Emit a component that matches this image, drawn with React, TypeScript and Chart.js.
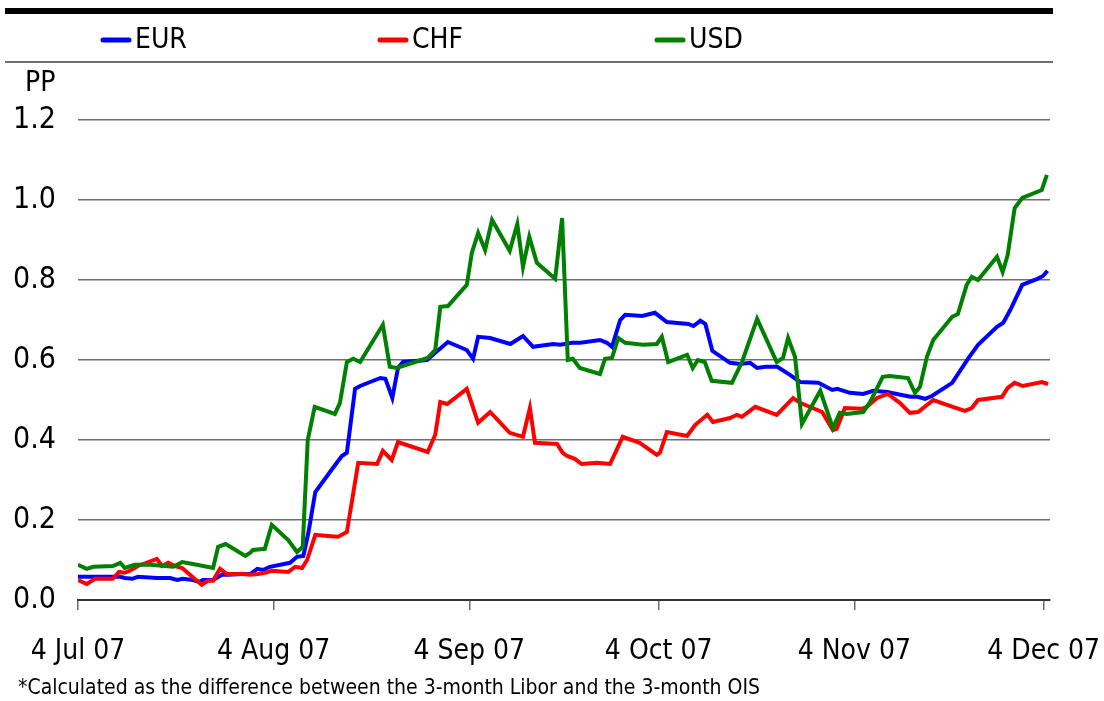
import React, { useEffect, useRef } from "react";
import { Chart, registerables } from "chart.js";

Chart.register(...registerables);

const FONT = "'DejaVu Sans Condensed', 'Liberation Sans Narrow', 'DejaVu Sans', sans-serif";

const tickDays = [0, 31, 62, 92, 123, 153];
const tickLabels = ["4 Jul 07", "4 Aug 07", "4 Sep 07", "4 Oct 07", "4 Nov 07", "4 Dec 07"];
const seriesNames = ["EUR", "CHF", "USD"];
const seriesColors = ["#0000ff", "#ff0000", "#008000"];
const unitLabel = "PP";
const footnote = "*Calculated as the difference between the 3-month Libor and the 3-month OIS";

const eurDays = [0, 1.4, 5.5, 6.7, 7.4, 8.6, 9.5, 12.5, 14.6, 15.7, 16.6, 18.2, 19.3, 19.8, 21.4, 22.8, 23.8, 26.1, 27.3, 28.4, 29.3, 30.4, 33.6, 34.7, 35.7, 36.5, 37.6, 41.0, 41.8, 42.6, 43.9, 44.7, 47.9, 48.7, 49.8, 50.7, 51.5, 55.3, 56.6, 58.6, 61.6, 62.6, 63.4, 65.3, 68.5, 70.5, 72.1, 75.3, 76.4, 78.3, 79.6, 82.7, 83.8, 84.6, 85.9, 86.7, 89.4, 91.4, 93.3, 96.7, 97.5, 98.6, 99.4, 100.5, 103.3, 104.9, 106.5, 107.6, 108.9, 110.8, 112.8, 114.4, 117.3, 119.5, 120.3, 122.3, 124.4, 126.0, 128.2, 130.3, 131.9, 133.0, 134.2, 135.3, 138.5, 141.0, 142.6, 145.6, 146.6, 147.7, 149.6, 152.0, 152.9, 153.6];
const eurValues = [0.058, 0.058, 0.058, 0.058, 0.055, 0.053, 0.058, 0.055, 0.055, 0.05, 0.053, 0.05, 0.045, 0.05, 0.05, 0.063, 0.063, 0.065, 0.065, 0.078, 0.075, 0.083, 0.093, 0.108, 0.11, 0.168, 0.27, 0.343, 0.36, 0.368, 0.528, 0.535, 0.555, 0.553, 0.505, 0.58, 0.595, 0.6, 0.618, 0.645, 0.625, 0.603, 0.658, 0.655, 0.64, 0.66, 0.633, 0.64, 0.638, 0.643, 0.643, 0.65, 0.643, 0.633, 0.7, 0.713, 0.71, 0.718, 0.695, 0.69, 0.685, 0.698, 0.69, 0.623, 0.593, 0.59, 0.593, 0.58, 0.583, 0.583, 0.563, 0.545, 0.543, 0.525, 0.528, 0.518, 0.515, 0.523, 0.52, 0.513, 0.508, 0.508, 0.503, 0.51, 0.543, 0.603, 0.638, 0.683, 0.693, 0.725, 0.788, 0.803, 0.81, 0.823];

const chfDays = [0, 1.4, 2.7, 5.5, 6.5, 7.4, 8.2, 9.5, 12.5, 13.3, 14.3, 15.4, 16.5, 18.1, 19.6, 20.6, 21.4, 22.5, 23.6, 26.1, 27.3, 28.5, 29.6, 30.7, 33.3, 34.4, 35.5, 36.3, 37.6, 39.6, 41.2, 42.6, 44.4, 47.4, 48.3, 49.7, 50.7, 55.4, 56.6, 57.4, 58.5, 61.6, 63.4, 65.3, 68.4, 70.5, 71.6, 72.4, 75.9, 76.8, 77.5, 78.7, 79.8, 82.2, 84.3, 86.3, 89.0, 91.7, 92.2, 93.3, 96.5, 97.8, 99.7, 100.6, 103.3, 104.4, 105.2, 107.3, 110.7, 113.3, 114.4, 116.4, 117.9, 119.6, 120.2, 121.5, 124.2, 125.0, 126.6, 128.3, 130.2, 131.8, 133.1, 135.5, 138.6, 140.5, 141.6, 142.6, 146.4, 147.3, 148.4, 149.7, 152.7, 153.7];
const chfValues = [0.05, 0.04, 0.053, 0.053, 0.07, 0.068, 0.073, 0.085, 0.103, 0.085, 0.093, 0.085, 0.08, 0.058, 0.038, 0.048, 0.048, 0.078, 0.065, 0.065, 0.063, 0.065, 0.068, 0.073, 0.07, 0.083, 0.08, 0.1, 0.163, 0.16, 0.158, 0.17, 0.343, 0.34, 0.373, 0.35, 0.395, 0.37, 0.413, 0.495, 0.49, 0.528, 0.443, 0.47, 0.418, 0.408, 0.48, 0.393, 0.39, 0.368, 0.36, 0.353, 0.34, 0.343, 0.34, 0.408, 0.393, 0.363, 0.368, 0.42, 0.41, 0.438, 0.463, 0.445, 0.455, 0.463, 0.458, 0.483, 0.463, 0.505, 0.493, 0.48, 0.47, 0.425, 0.428, 0.48, 0.478, 0.483, 0.505, 0.515, 0.493, 0.468, 0.47, 0.5, 0.483, 0.473, 0.48, 0.5, 0.508, 0.53, 0.543, 0.535, 0.545, 0.54];

const usdDays = [0, 1.4, 2.4, 5.5, 6.7, 7.4, 9.0, 11.4, 15.1, 16.5, 18.2, 21.4, 22.2, 23.4, 26.5, 27.3, 27.7, 29.6, 30.7, 33.3, 34.7, 35.6, 36.4, 37.5, 40.7, 41.5, 42.6, 43.6, 44.7, 48.3, 49.4, 50.5, 55.4, 56.6, 57.4, 58.6, 61.6, 62.4, 63.4, 64.5, 65.6, 68.4, 69.6, 70.5, 71.5, 72.7, 75.6, 76.7, 77.6, 78.4, 79.5, 82.7, 83.5, 84.6, 85.6, 86.7, 89.5, 91.7, 92.5, 93.5, 96.5, 97.4, 98.2, 99.3, 100.4, 103.6, 105.2, 107.6, 110.7, 111.7, 112.5, 113.6, 114.7, 117.6, 119.6, 120.7, 121.8, 124.4, 125.5, 127.5, 128.6, 131.5, 132.6, 133.4, 134.5, 135.5, 138.5, 139.4, 140.8, 141.6, 142.6, 145.6, 146.5, 147.3, 148.4, 149.6, 152.7, 153.5];
const usdValues = [0.088, 0.078, 0.083, 0.085, 0.093, 0.08, 0.088, 0.088, 0.083, 0.095, 0.09, 0.08, 0.133, 0.14, 0.11, 0.118, 0.125, 0.128, 0.188, 0.15, 0.12, 0.133, 0.4, 0.483, 0.465, 0.493, 0.595, 0.603, 0.595, 0.688, 0.583, 0.58, 0.605, 0.625, 0.733, 0.735, 0.788, 0.868, 0.918, 0.875, 0.95, 0.873, 0.94, 0.833, 0.908, 0.843, 0.803, 0.955, 0.6, 0.603, 0.58, 0.565, 0.603, 0.605, 0.655, 0.643, 0.638, 0.64, 0.658, 0.595, 0.613, 0.58, 0.6, 0.595, 0.548, 0.543, 0.595, 0.703, 0.595, 0.605, 0.655, 0.608, 0.44, 0.523, 0.43, 0.468, 0.465, 0.47, 0.495, 0.558, 0.56, 0.555, 0.518, 0.533, 0.608, 0.65, 0.708, 0.715, 0.788, 0.808, 0.8, 0.858, 0.82, 0.863, 0.98, 1.005, 1.025, 1.063];

const seriesDays = [eurDays, chfDays, usdDays];
const seriesValues = [eurValues, chfValues, usdValues];

const decorPlugin = {
  id: "decor",
  afterDraw(chart: any) {
    const ctx = chart.ctx as CanvasRenderingContext2D;
    ctx.save();
    // heavy top rule
    ctx.fillStyle = "#000";
    ctx.fillRect(5, 8, 1048, 6);
    // thin rule under legend
    ctx.fillStyle = "#6e6e6e";
    ctx.fillRect(5, 61, 1048, 2);
    // legend
    const legendX = [103, 380, 657];
    ctx.textBaseline = "middle";
    ctx.textAlign = "left";
    ctx.font = `28px ${FONT}`;
    chart.data.datasets.forEach((ds: any, i: number) => {
      const x = legendX[i];
      ctx.strokeStyle = ds.borderColor;
      ctx.lineWidth = 5;
      ctx.lineCap = "round";
      ctx.beginPath();
      ctx.moveTo(x, 40);
      ctx.lineTo(x + 26, 40);
      ctx.stroke();
      ctx.fillStyle = "#000";
      ctx.fillText(ds.label, x + 32, 41);
    });
    // unit label
    ctx.font = `28px ${FONT}`;
    ctx.fillText(unitLabel, 25, 84);
    // footnote
    ctx.font = `21px ${FONT}`;
    ctx.fillText(footnote, 18, 689);
    ctx.restore();
  },
};

export default function App() {
  const canvasRef = useRef<HTMLCanvasElement | null>(null);

  useEffect(() => {
    const canvas = canvasRef.current;
    if (!canvas) return;
    const datasets = seriesNames.map((name, i) => ({
      label: name,
      data: seriesDays[i].map((d, j) => ({ x: d, y: seriesValues[i][j] })),
      borderColor: seriesColors[i],
      backgroundColor: seriesColors[i],
      borderWidth: 4,
      pointRadius: 0,
      tension: 0,
      fill: false,
      order: 2 - i,
    }));
    const chart = new Chart(canvas, {
      type: "line",
      data: { datasets },
      options: {
        animation: false,
        responsive: false,
        maintainAspectRatio: false,
        layout: { padding: { top: 120, right: 54, left: 0, bottom: 0 } },
        plugins: {
          legend: { display: false },
          tooltip: { enabled: false },
          title: { display: false },
        },
        scales: {
          x: {
            type: "linear",
            min: 0,
            max: 154,
            afterBuildTicks: (scale: any) => {
              scale.ticks = tickDays.map((v) => ({ value: v }));
            },
            afterFit: (scale: any) => {
              scale.height = 101;
              scale.paddingLeft = 0;
              scale.paddingRight = 0;
            },
            ticks: {
              autoSkip: false,
              maxRotation: 0,
              padding: 25,
              color: "#000",
              font: { family: FONT, size: 28 },
              callback: (v: any) => tickLabels[tickDays.indexOf(Number(v))] ?? "",
            },
            grid: {
              drawOnChartArea: false,
              drawTicks: true,
              tickLength: 10,
              color: "#6e6e6e",
              lineWidth: 1.5,
            },
            border: { display: true, color: "#333", width: 2 },
          },
          y: {
            min: 0,
            max: 1.2,
            afterFit: (scale: any) => {
              scale.width = 78;
              scale.paddingTop = 0;
              scale.paddingBottom = 0;
            },
            ticks: {
              stepSize: 0.2,
              padding: 22,
              color: "#000",
              font: { family: FONT, size: 30 },
              callback: (v: any) => Number(v).toFixed(1),
            },
            grid: {
              drawTicks: false,
              color: "#6e6e6e",
              lineWidth: 1.5,
            },
            border: { display: false },
          },
        },
      },
      plugins: [decorPlugin],
    });
    return () => chart.destroy();
  }, []);

  return (
    <div style={{ position: "absolute", left: 0, top: 0, width: 1104, height: 701, background: "#fff" }}>
      <canvas ref={canvasRef} width={1104} height={701} style={{ display: "block" }} />
    </div>
  );
}
